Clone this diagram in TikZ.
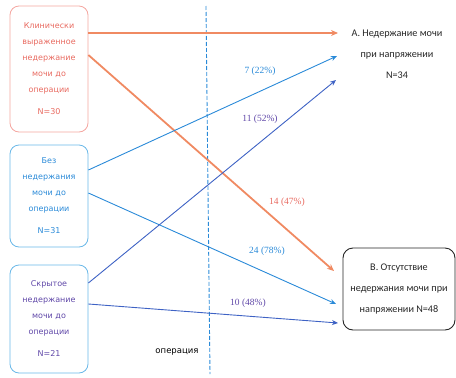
\documentclass[tikz,border=0pt]{standalone}
\usepackage{fontspec}
\setmainfont{Carlito}
\newfontfamily\boxfont{DejaVu Sans}
\newfontfamily\numfont{Liberation Serif}
\usetikzlibrary{arrows.meta}
\definecolor{cred}{HTML}{F08A62}
\definecolor{cboxred}{HTML}{F4A6A0}
\definecolor{ctred}{HTML}{E86A60}
\definecolor{cblue}{HTML}{2A8AD8}
\definecolor{cboxblue}{HTML}{6AB8E8}
\definecolor{cpurple}{HTML}{6048A8}
\definecolor{cpline}{HTML}{3E62C4}
\begin{document}
\begin{tikzpicture}[x=1pt,y=-1pt,
  srcbox/.style={draw, rounded corners=9pt, line width=0.8pt, minimum width=78pt,
    align=center, font=\boxfont\fontsize{8}{16}\selectfont, inner sep=0pt},
  arr/.style={-{Stealth[length=6pt,width=5pt]}, line width=0.9pt},
  thick arr/.style={-{Stealth[length=7pt,width=6pt]}, line width=1.8pt, cred},
  pct/.style={font=\numfont\fontsize{9.5}{11}\selectfont}]
\useasboundingbox (0,0) rectangle (456,378);

% source boxes
\node[srcbox, cboxred, text=ctred, minimum height=126pt] (b1) at (49,69)
  {Клинически\\выраженное\\недержание\\мочи до\\операции\\[6pt]N=30};
\node[srcbox, cboxblue, text=cblue, minimum height=102pt] (b2) at (49,196)
  {Без\\недержания\\мочи до\\операции\\[6pt]N=31};
\node[srcbox, cboxblue, text=cpurple, minimum height=108pt] (b3) at (49,319)
  {Скрытое\\недержание\\мочи до\\операции\\[6pt]N=21};

% targets
\node[align=center, font=\fontsize{10.2}{21}\selectfont, text=black!85, inner sep=0pt,
  minimum width=112pt] (A) at (397,54)
  {А. Недержание мочи\\при напряжении\\N=34};
\node[draw=black!85, rounded corners=10pt, line width=0.9pt, align=center,
  font=\fontsize{10.2}{21}\selectfont, text=black!85, minimum width=112pt,
  minimum height=82pt, inner sep=0pt] (B) at (399,289)
  {В. Отсутствие\\недержания мочи при\\напряжении N=48};

% dashed operation line
\coordinate (opTop) at (206,6);
\coordinate (opBot) at (210,374);
\draw[cblue, line width=0.9pt, dash pattern=on 4pt off 2pt] (opTop) -- (opBot);
\node[font=\boxfont\fontsize{8.5}{10}\selectfont, text=black] (op) at (177,352) {операция};

% end coordinates
\coordinate (a1) at (338,33);
\coordinate (a2) at (337,56);
\coordinate (a3) at (336,80);
\coordinate (bb1) at (334,271);
\coordinate (bb2) at (336,304);
\coordinate (bb3) at (338,323);

% connectors
\draw[thick arr] (b1.east |- a1) -- (a1);
\draw[thick arr] (b1.east |- 0,55) -- (bb1);
\draw[arr, cblue] (b2.east |- 0,170) -- (a2);
\draw[arr, cblue] (b2.east |- 0,193) -- (bb2);
\draw[arr, cpline] (b3.east |- 0,283) -- (a3);
\draw[arr, cpline] (b3.east |- 0,304) -- (bb3);

% labels
\node[pct, text=cblue] (l1) at (260,71) {7 (22\%)};
\node[pct, text=cpurple] (l2) at (260,119) {11 (52\%)};
\node[pct, text=ctred] (l3) at (287,202) {14 (47\%)};
\node[pct, text=cblue] (l4) at (267,251) {24 (78\%)};
\node[pct, text=cpurple] (l5) at (248,303) {10 (48\%)};
\end{tikzpicture}
\end{document}
